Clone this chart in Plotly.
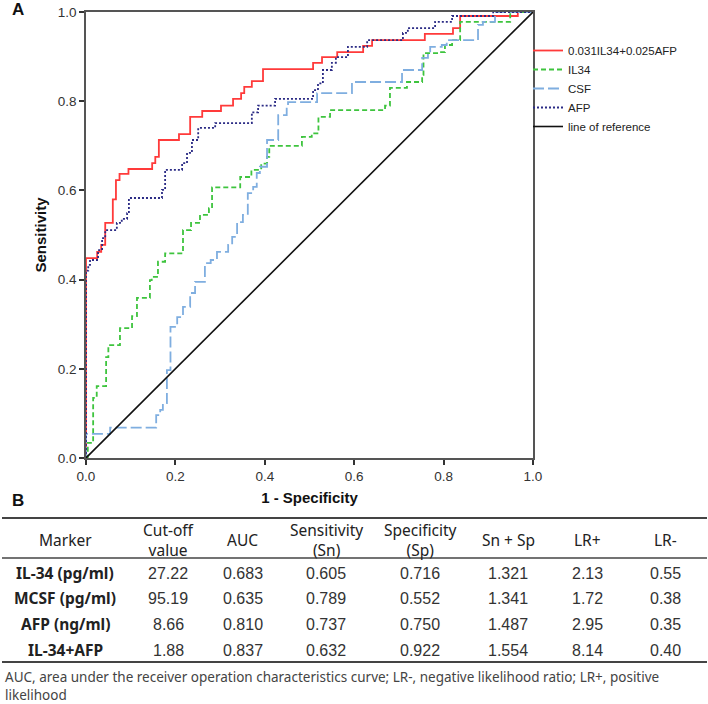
import plotly.graph_objects as go

W, H = 708, 704

# ---------------- ROC data (1 - specificity, sensitivity), step vertices ----------------
combo_fpr = [0, 0, 0.025, 0.034, 0.043, 0.06, 0.067, 0.075, 0.095, 0.148, 0.155, 0.163, 0.208, 0.233,
             0.26, 0.302, 0.329, 0.347, 0.354, 0.371, 0.396, 0.508, 0.528, 0.562, 0.62, 0.64, 0.758,
             0.821, 0.837, 0.966, 1.0]
combo_tpr = [0, 0.448, 0.462, 0.478, 0.527, 0.58, 0.623, 0.637, 0.648, 0.661, 0.675, 0.713, 0.726, 0.765,
             0.778, 0.79, 0.805, 0.818, 0.832, 0.845, 0.872, 0.886, 0.899, 0.91, 0.924, 0.937, 0.951,
             0.964, 0.991, 1.0, 1.0]

il34_fpr = [0, 0.004, 0.016, 0.024, 0.045, 0.05, 0.076, 0.103, 0.114, 0.143, 0.147, 0.161, 0.177, 0.217,
            0.235, 0.255, 0.275, 0.282, 0.345, 0.37, 0.392, 0.405, 0.41, 0.483, 0.505, 0.52, 0.546, 0.669,
            0.68, 0.718, 0.752, 0.755, 0.792, 0.803, 0.819, 0.837, 0.949, 1.0]
il34_tpr = [0, 0.034, 0.135, 0.161, 0.226, 0.253, 0.291, 0.318, 0.359, 0.399, 0.406, 0.44, 0.459, 0.511,
            0.527, 0.545, 0.56, 0.607, 0.63, 0.646, 0.66, 0.675, 0.70, 0.72, 0.728, 0.765, 0.78, 0.79,
            0.83, 0.843, 0.859, 0.908, 0.91, 0.926, 0.937, 0.978, 1.0, 1.0]

csf_fpr = [0, 0, 0.054, 0.157, 0.166, 0.172, 0.181, 0.189, 0.204, 0.217, 0.233, 0.244, 0.266, 0.279,
           0.293, 0.318, 0.327, 0.338, 0.351, 0.362, 0.374, 0.382, 0.389, 0.405, 0.43, 0.449, 0.452,
           0.517, 0.595, 0.707, 0.752, 0.765, 0.77, 0.796, 0.807, 0.877, 0.888, 0.915, 1.0]
csf_tpr = [0, 0.054, 0.068, 0.096, 0.108, 0.123, 0.197, 0.294, 0.316, 0.339, 0.37, 0.395, 0.437, 0.444,
           0.462, 0.478, 0.496, 0.529, 0.545, 0.594, 0.608, 0.639, 0.653, 0.713, 0.769, 0.787, 0.798,
           0.818, 0.843, 0.87, 0.897, 0.908, 0.922, 0.926, 0.937, 0.971, 0.978, 1.0, 1.0]

afp_fpr = [0, 0, 0.005, 0.009, 0.027, 0.036, 0.043, 0.069, 0.08, 0.092, 0.096, 0.17, 0.177, 0.215,
           0.226, 0.237, 0.251, 0.289, 0.371, 0.385, 0.423, 0.508, 0.519, 0.53, 0.55, 0.559, 0.586,
           0.629, 0.709, 0.72, 0.781, 0.819, 0.911, 1.0]
afp_tpr = [0, 0.42, 0.433, 0.444, 0.466, 0.493, 0.511, 0.527, 0.536, 0.549, 0.583, 0.601, 0.646, 0.661,
           0.684, 0.713, 0.74, 0.751, 0.775, 0.79, 0.805, 0.825, 0.84, 0.87, 0.886, 0.899, 0.922,
           0.937, 0.953, 0.964, 0.978, 0.991, 1.0, 1.0]

ref_x = [0, 1]
ref_y = [0, 1]

tick_vals = [0.0, 0.2, 0.4, 0.6, 0.8, 1.0]
tick_text = ["0.0", "0.2", "0.4", "0.6", "0.8", "1.0"]

series_names = ["0.031IL34+0.025AFP", "IL34", "CSF", "AFP", "line of reference"]

# ---------------- Table data ----------------
table_header = ["Marker", "Cut-off<br>value", "AUC", "Sensitivity<br>(Sn)", "Specificity<br>(Sp)",
                "Sn + Sp", "LR+", "LR-"]
markers = ["IL-34 (pg/ml)", "MCSF (pg/ml)", "AFP (ng/ml)", "IL-34+AFP"]
cutoff = ["27.22", "95.19", "8.66", "1.88"]
auc = ["0.683", "0.635", "0.810", "0.837"]
sens = ["0.605", "0.789", "0.737", "0.632"]
spec = ["0.716", "0.552", "0.750", "0.922"]
sn_sp = ["1.321", "1.341", "1.487", "1.554"]
lr_pos = ["2.13", "1.72", "2.95", "8.14"]
lr_neg = ["0.55", "0.38", "0.35", "0.40"]
footnote = ("AUC, area under the receiver operation characteristics curve; LR-, negative likelihood "
            "ratio; LR+, positive<br>likelihood")


def px(x):
    return x / W


def py(y):
    return 1 - y / H


ARIAL = "Liberation Sans, Arial, sans-serif"
SANS = "Noto Sans, Open Sans, sans-serif"

fig = go.Figure()
styles = [
    (combo_fpr, combo_tpr, "#FF3A3A", "solid"),
    (il34_fpr, il34_tpr, "#3EC43E", "5px,3px"),
    (csf_fpr, csf_tpr, "#7FAEE0", "11px,4px"),
    (afp_fpr, afp_tpr, "#2B2B85", "2px,2px"),
]
for (xs, ys, col, dash), name in zip(styles, series_names[:4]):
    fig.add_trace(go.Scatter(x=xs, y=ys, mode="lines", name=name,
                             line=dict(color=col, width=1.8, dash=dash, shape="hv")))
fig.add_trace(go.Scatter(x=ref_x, y=ref_y, mode="lines", name=series_names[4],
                         line=dict(color="#111111", width=1.6)))

axis_common = dict(range=[0, 1], tickvals=tick_vals, ticktext=tick_text, ticks="outside",
                   ticklen=5, tickwidth=1.5, tickcolor="#333", showline=True, linecolor="#555",
                   linewidth=1.5, mirror=True, showgrid=False, zeroline=False,
                   tickfont=dict(family=ARIAL, size=13.5, color="#333"), automargin=False)

fig.update_layout(
    width=W, height=H, autosize=False,
    margin=dict(l=0, r=0, t=0, b=0),
    paper_bgcolor="white", plot_bgcolor="white",
    xaxis=dict(domain=[px(86), px(533)],
               title=dict(text="<b>1 - Specificity</b>", font=dict(family=ARIAL, size=15, color="#111"),
                          standoff=10), **axis_common),
    yaxis=dict(domain=[py(458), py(12)],
               title=dict(text="<b>Sensitivity</b>", font=dict(family=ARIAL, size=15, color="#111"),
                          standoff=8), **axis_common),
    legend=dict(x=px(528), y=py(36), xanchor="left", yanchor="top", bgcolor="rgba(0,0,0,0)",
                font=dict(family=ARIAL, size=11.5, color="#222"), itemwidth=30, tracegroupgap=0),
    showlegend=True,
)

ann = []
ann.append(dict(text="<b>A</b>", x=px(18), y=py(9), font=dict(family=ARIAL, size=17, color="#111")))
ann.append(dict(text="<b>B</b>", x=px(18), y=py(500), font=dict(family=ARIAL, size=17, color="#111")))

col_x = [65, 168, 243, 326, 420, 508, 587, 665]
for cx, h in zip(col_x, table_header):
    ann.append(dict(text=h, x=px(cx), y=py(540), font=dict(family=SANS, size=15.5, color="#222")))

row_y = [573, 598, 624, 650]
columns = [cutoff, auc, sens, spec, sn_sp, lr_pos, lr_neg]
for i, ry in enumerate(row_y):
    ann.append(dict(text="<b>" + markers[i] + "</b>", x=px(col_x[0]), y=py(ry),
                    font=dict(family=SANS, size=15.5, color="#222")))
    for cx, col in zip(col_x[1:], columns):
        ann.append(dict(text=col[i], x=px(cx), y=py(ry),
                        font=dict(family=ARIAL, size=16, color="#333")))

ann.append(dict(text=footnote, x=px(3), y=py(666), xanchor="left", yanchor="top", align="left",
                font=dict(family=SANS, size=13.5, color="#444")))

for a in ann:
    a.setdefault("xanchor", "center")
    a.setdefault("yanchor", "middle")
    a.update(xref="paper", yref="paper", showarrow=False)
fig.update_layout(annotations=ann)

shapes = []
for yy, lw in [(518, 2), (558, 1.6), (662, 2)]:
    shapes.append(dict(type="line", xref="paper", yref="paper", x0=px(2), x1=px(707),
                       y0=py(yy), y1=py(yy), line=dict(color="#444", width=lw)))
fig.update_layout(shapes=shapes)

fig.write_html("out.html", config={"displayModeBar": False},
               post_script="document.body.style.margin='0';document.body.style.overflow='hidden';")
